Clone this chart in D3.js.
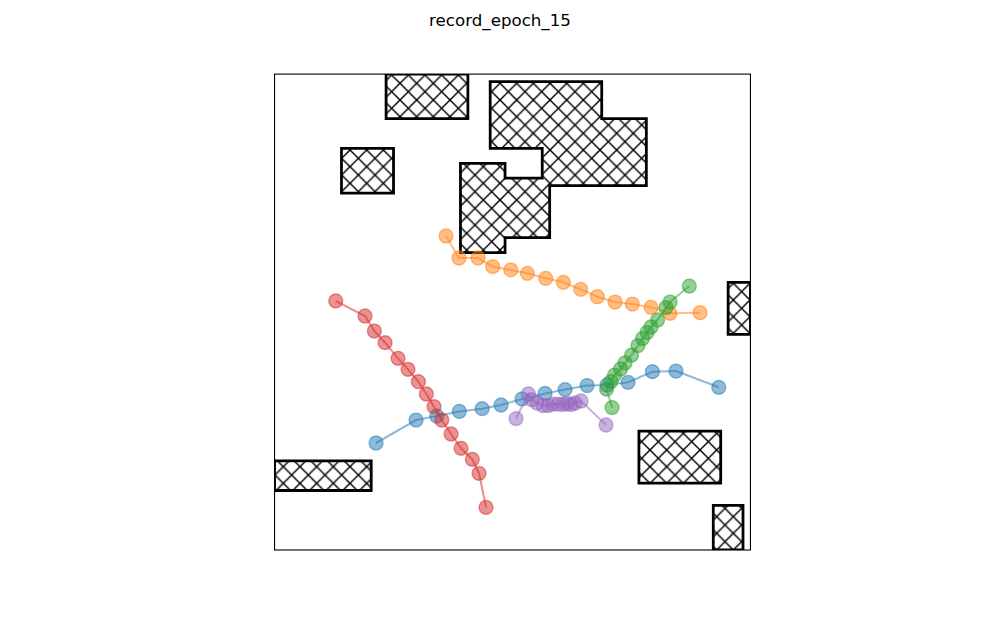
<!DOCTYPE html>
<html><head><meta charset="utf-8">
<script src="https://cdn.jsdelivr.net/npm/d3@7"></script>
<style>body{margin:0;background:#fff}</style></head><body>
<svg id="c" width="1000" height="618"></svg>
<script>
// ---- data (world units, y up) ----
const title = "record_epoch_15";
const worldSize = 64;
// rectangles: [x0, y0, x1, y1]
const rectObstacles = [
  [15, 58, 26, 64],
  [9, 48, 16, 54],
  [49, 9, 60, 16],
  [0, 8, 13, 12],
  [61, 29, 64, 36],
  [59, 0, 63, 6]
];
// merged obstacle outline
const polyObstacle = [[29,63],[44,63],[44,58],[50,58],[50,49],[37,49],[37,42],[31,42],[31,40],[25,40],[25,52],[31,52],[31,50],[36,50],[36,54],[29,54]];

const agentColors = ["#1f77b4", "#ff7f0e", "#2ca02c", "#d62728", "#9467bd"];
const blueX = [13.65,19.03,21.81,24.85,27.91,30.46,33.28,36.38,39.07,42.03,44.72,47.54,50.81,53.99,59.74];
const blueY = [14.39,17.48,18.02,18.63,19.00,19.50,20.31,21.05,21.58,22.12,22.19,22.55,23.98,24.07,21.88];
const orangeX = [23.06,24.81,27.37,29.34,31.77,34.00,36.47,38.84,41.18,43.41,45.79,48.12,50.63,53.19,57.22];
const orangeY = [42.23,39.27,39.27,38.10,37.66,37.21,36.54,36.00,35.06,34.06,33.35,33.08,32.64,31.83,31.91];
const greenX = [45.39,44.65,45.25,45.72,46.53,47.14,48.01,48.88,49.49,50.10,50.63,51.51,52.65,53.19,55.78];
const greenY = [19.16,21.65,22.66,23.53,24.34,25.15,26.22,27.50,28.44,29.25,29.99,30.93,32.61,33.35,35.50];
const redX = [8.23,12.17,13.42,14.86,16.61,17.95,19.34,20.41,21.45,22.49,23.74,25.08,26.60,27.50,28.44];
const redY = [33.49,31.47,29.45,27.88,25.78,24.30,22.63,20.98,19.27,17.48,15.60,13.68,12.20,10.31,5.74];
const purpleX = [32.48,34.13,34.59,35.30,36.11,36.78,37.45,38.13,38.80,39.34,39.87,40.41,41.22,44.58];
const purpleY = [17.68,20.98,20.21,19.77,19.43,19.43,19.63,19.63,19.57,19.70,19.57,19.77,20.04,16.81];

const seriesX = [blueX, orangeX, greenX, redX, purpleX];
const seriesY = [blueY, orangeY, greenY, redY, purpleY];

// ---- drawing ----
const svg = d3.select("#c");
svg.append("rect").attr("width",1000).attr("height",618).attr("fill","#fff");
const x = d3.scaleLinear().domain([0, worldSize]).range([274.55, 750.45]);
const y = d3.scaleLinear().domain([0, worldSize]).range([550.0, 74.1]);

const defs = svg.append("defs");
const hw = 100/6;
const pat = defs.append("pattern").attr("id","hx").attr("patternUnits","userSpaceOnUse")
  .attr("x",0).attr("y",0).attr("width",hw).attr("height",hw);
pat.append("rect").attr("width",hw).attr("height",hw).attr("fill","#fff");
[[-hw,-2*hw,2*hw,hw],[-2*hw,-hw,hw,2*hw],[-hw,-hw,2*hw,2*hw],
 [-hw,2*hw,2*hw,-hw],[-2*hw,hw,hw,-2*hw],[0,3*hw,3*hw,0]].forEach(l=>{
  pat.append("line").attr("x1",l[0]).attr("y1",l[1]).attr("x2",l[2]).attr("y2",l[3])
    .attr("stroke","#000").attr("stroke-width",1.45);
});
defs.append("clipPath").attr("id","ax").append("rect")
  .attr("x",x(0)).attr("y",y(worldSize)).attr("width",x(worldSize)-x(0)).attr("height",y(0)-y(worldSize));

const g = svg.append("g").attr("clip-path","url(#ax)");
const polys = rectObstacles.map(r => [[r[0],r[1]],[r[2],r[1]],[r[2],r[3]],[r[0],r[3]]]);
polys.push(polyObstacle);
const line = d3.line().x(d=>x(d[0])).y(d=>y(d[1]));
polys.forEach(p => {
  g.append("path").attr("d", line(p) + "Z")
    .attr("fill","url(#hx)").attr("stroke","#000").attr("stroke-width",2.78)
    .attr("stroke-linejoin","miter");
});

seriesX.forEach((xs, i) => {
  const pts = xs.map((v, j) => [v, seriesY[i][j]]);
  const c = agentColors[i];
  g.append("path").attr("d", line(pts)).attr("fill","none").attr("stroke",c)
    .attr("stroke-opacity",0.5).attr("stroke-width",2.08);
  pts.forEach(p => {
    g.append("circle").attr("cx",x(p[0])).attr("cy",y(p[1])).attr("r",6.94)
      .attr("fill",c).attr("fill-opacity",0.5)
      .attr("stroke",c).attr("stroke-opacity",0.5).attr("stroke-width",1.39);
  });
});

svg.append("rect").attr("x",x(0)).attr("y",y(worldSize))
  .attr("width",x(worldSize)-x(0)).attr("height",y(0)-y(worldSize))
  .attr("fill","none").attr("stroke","#000").attr("stroke-width",1.1);

svg.append("text").attr("x",500).attr("y",26).attr("text-anchor","middle")
  .attr("font-family","DejaVu Sans").attr("font-size","16.67px").attr("fill","#000")
  .text(title);
</script>
</body></html>
